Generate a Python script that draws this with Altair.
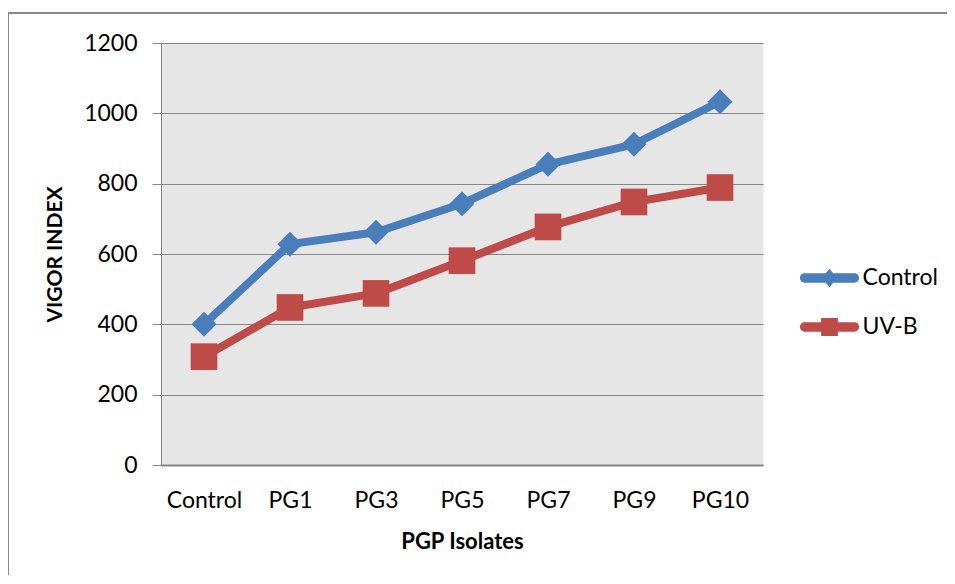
import altair as alt
import pandas as pd

categories = ["Control", "PG1", "PG3", "PG5", "PG7", "PG9", "PG10"]
control_vals = [400, 628, 662, 743, 855, 912, 1033]
uvb_vals = [308, 448, 488, 581, 677, 748, 789]
series_names = ["Control", "UV-B"]
series_colors = ["#4A7EBB", "#BE4B48"]
y_ticks = [0, 200, 400, 600, 800, 1000, 1200]

rows = []
for s, vals in zip(series_names, [control_vals, uvb_vals]):
    for c, v in zip(categories, vals):
        rows.append({"isolate": c, "series": s, "value": v})
df = pd.DataFrame(rows)

FONT = "Lato"
W, H = 602, 422

diamond_path = ("M-1.66,-0.31L1.66,-0.31A0.31,0.31 0 0 1 1.66,0.31L-1.66,0.31"
                "A0.31,0.31 0 0 1 -1.66,-0.31Z M0,-0.62L0.5,0L0,0.62L-0.5,0Z")
square_path = ("M-1.66,-0.31L1.66,-0.31A0.31,0.31 0 0 1 1.66,0.31L-1.66,0.31"
               "A0.31,0.31 0 0 1 -1.66,-0.31Z M-0.56,-0.6L0.56,-0.6L0.56,0.6L-0.56,0.6Z")

x_enc = alt.X(
    "isolate:N",
    sort=categories,
    scale=alt.Scale(type="point", padding=0.5),
    axis=alt.Axis(
        title="PGP Isolates",
        labelAngle=0,
        labelFont=FONT,
        labelFontSize=23,
        labelColor="#000000",
        labelPadding=24,
        ticks=False,
        tickSize=0,
        grid=False,
        domainColor="#868686",
        domainWidth=2,
        titleFont=FONT,
        titleFontSize=22,
        titleFontWeight="bold",
        titleColor="#000000",
        titleBaseline="middle",
        titleY=76,
        titleX=W / 2,
    ),
)
y_enc = alt.Y(
    "value:Q",
    scale=alt.Scale(domain=[0, 1200], nice=False),
    axis=alt.Axis(
        title="VIGOR INDEX",
        values=y_ticks,
        format="d",
        labelFont=FONT,
        labelFontSize=23,
        labelColor="#000000",
        labelPadding=15,
        tickSize=9,
        tickColor="#868686",
        gridColor="#868686",
        gridWidth=1,
        domainColor="#868686",
        titleFont=FONT,
        titleFontSize=21,
        titleFontWeight="bold",
        titleColor="#000000",
        titleAngle=270,
        titleAlign="center",
        titleBaseline="middle",
        titleX=-106,
        titleY=H / 2,
    ),
)
color_scale = alt.Scale(domain=series_names, range=series_colors)
shape_scale = alt.Scale(domain=series_names, range=[diamond_path, square_path])

lines = alt.Chart(df).mark_line(strokeWidth=8, strokeJoin="round", strokeCap="round").encode(
    x=x_enc,
    y=y_enc,
    color=alt.Color("series:N", scale=color_scale),
    detail="series:N",
)

diamonds = alt.Chart(df).transform_filter("datum.series == 'Control'").mark_point(
    shape="diamond", filled=True, size=625, opacity=1
).encode(
    x=x_enc,
    y=y_enc,
    color=alt.Color("series:N", scale=color_scale),
)

squares = alt.Chart(df).transform_filter("datum.series == 'UV-B'").mark_point(
    shape="square", filled=True, size=710, opacity=1
).encode(
    x=x_enc,
    y=y_enc,
    color=alt.Color("series:N", scale=color_scale),
)

legend = alt.Legend(
    title=None,
    orient="none",
    legendX=653.5,
    legendY=220,
    padding=0,
    values=series_names,
    symbolSize=900,
    symbolStrokeWidth=0,
    symbolOpacity=1,
    labelFont=FONT,
    labelFontSize=23,
    labelColor="#000000",
    labelOffset=18,
    rowPadding=22,
)

legend_layer = alt.Chart(df).transform_filter("false").mark_point(filled=True, opacity=1).encode(
    x=x_enc,
    y=y_enc,
    color=alt.Color("series:N", scale=color_scale, legend=legend),
    shape=alt.Shape("series:N", scale=shape_scale, legend=legend),
)

border_left = alt.Chart(df).mark_rule(color="#898989", strokeWidth=2).encode(
    x=alt.value(-153), y=alt.value(-30), y2=alt.value(560)
)
border_top = alt.Chart(df).mark_rule(color="#898989", strokeWidth=2).encode(
    x=alt.value(-154), x2=alt.value(790), y=alt.value(-30)
)

chart = alt.layer(lines, diamonds, squares, legend_layer, border_left, border_top).properties(
    width=W,
    height=H,
    autosize=alt.AutoSizeParams(type="none"),
    padding={"left": 153, "top": 35, "right": 184, "bottom": 110},
    background="#FFFFFF",
).configure_view(fill="#E6E6E6", stroke="transparent")

chart.save("out.html", embed_options={"renderer": "svg", "actions": False})
